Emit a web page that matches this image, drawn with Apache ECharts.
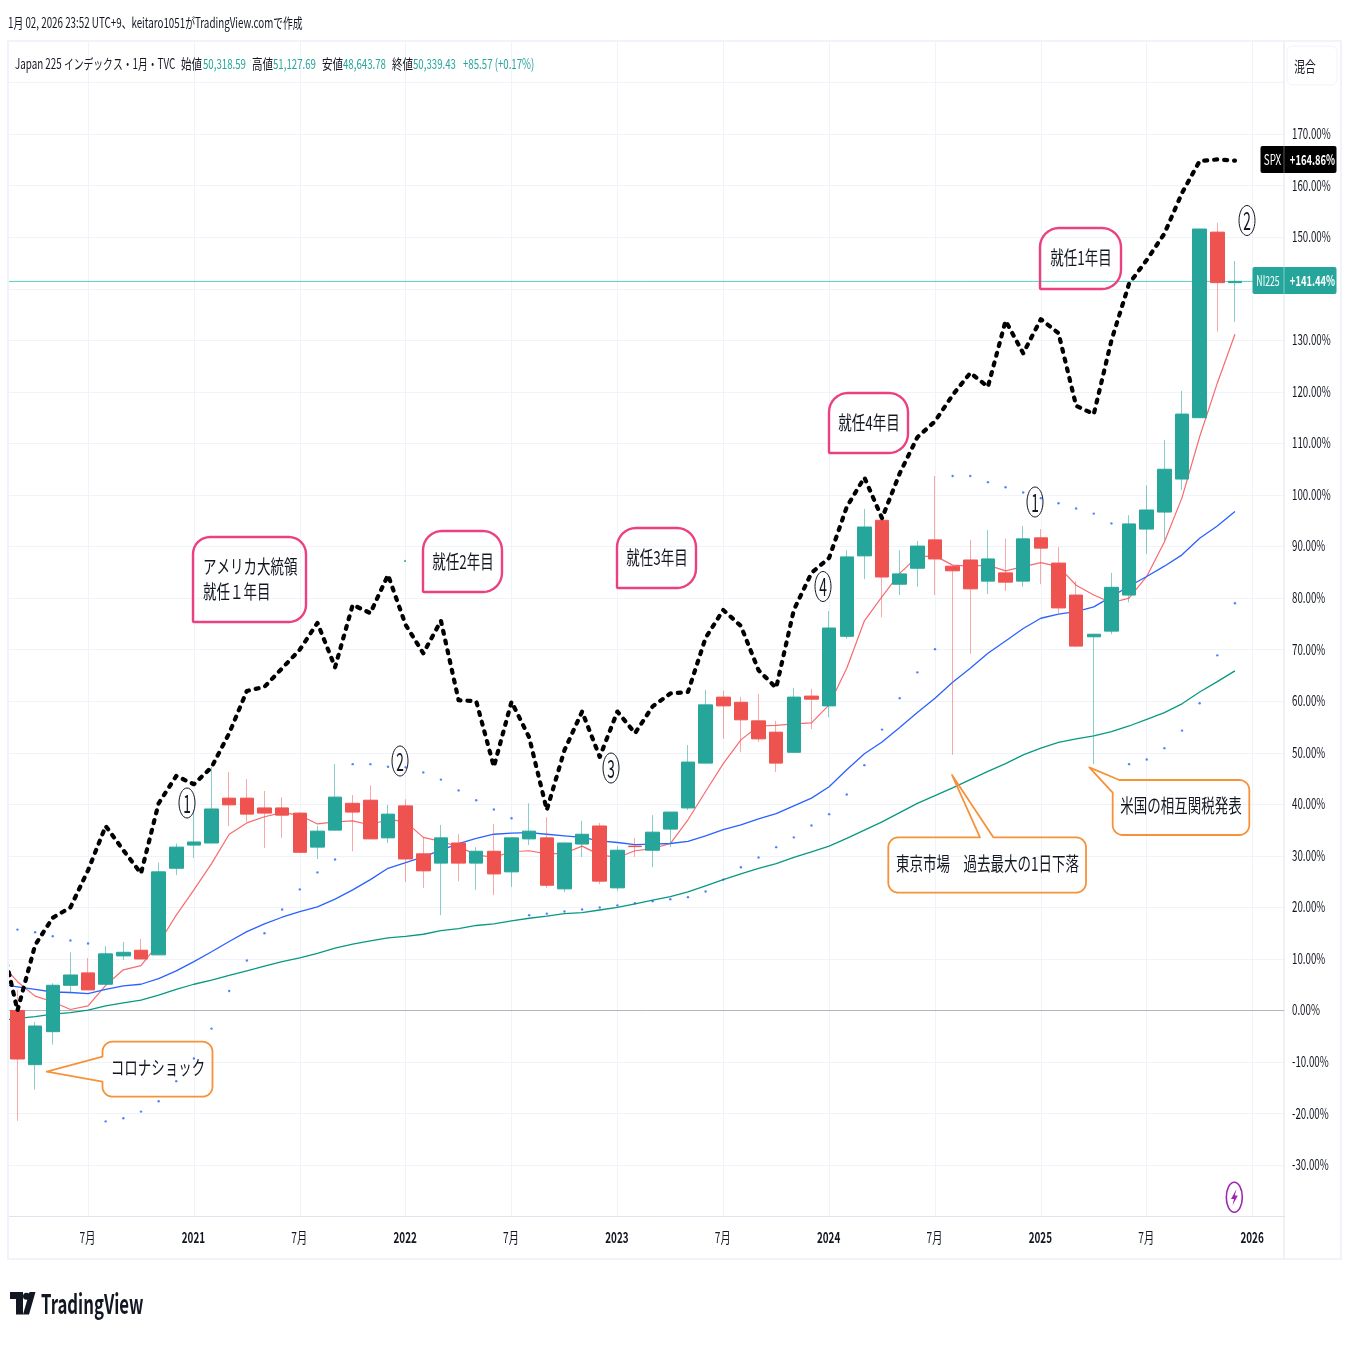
<!DOCTYPE html>
<html><head><meta charset="utf-8">
<style>html,body{margin:0;padding:0;background:#fff}#c{width:1349px;height:1349px}</style>
<script src="https://cdn.jsdelivr.net/npm/echarts@6/dist/echarts.min.js"></script>
</head><body><div id="c"></div>
<script>
// Monthly bars, Mar 2020 .. Dec 2025 position on the time scale (percent from first bar's open)
const openVals  = [0,-10.5,-4.1,4.9,7.3,5.1,10.6,11.7,10.8,27.6,32.1,32.5,41.2,41.2,39.3,39.3,38.3,31.7,35.0,40.2,40.8,33.5,39.7,30.4,28.6,32.5,28.6,30.9,26.9,33.3,33.5,23.6,32.3,35.8,23.8,31.9,31.1,35.2,39.3,48.0,60.8,59.8,56.2,54.0,50.1,61.0,59.1,72.6,88.2,95.1,82.7,85.8,91.3,86.2,87.4,83.3,84.9,83.3,91.7,86.8,80.6,72.5,73.6,80.6,93.4,96.7,103.1,115.0,151.0,141.2];
const closeVals = [-9.4,-3.0,4.9,6.9,4.0,11.0,11.3,10.0,26.9,31.7,32.7,39.1,39.9,38.1,38.3,37.9,30.7,34.8,41.4,38.5,33.3,38.1,29.4,27.1,33.5,28.6,30.9,26.5,33.5,34.8,24.3,32.5,34.2,25.1,31.1,31.8,34.6,38.5,48.2,59.3,59.1,56.4,52.7,48.0,60.8,60.4,74.2,88.0,93.8,84.1,84.7,90.1,87.6,85.3,81.8,87.6,83.1,91.5,89.7,78.1,70.7,73.0,82.1,94.4,97.1,105.0,115.7,151.6,141.2,141.44];
const lowVals   = [-21.4,-15.3,-6.6,3.3,4.0,5.1,9.8,10.0,10.8,26.3,29.6,32.5,35.8,36.6,31.5,33.5,30.7,29.4,35.0,30.9,33.3,32.5,24.9,23.8,18.5,25.1,23.4,22.4,24.0,32.1,23.8,23.0,29.8,24.5,23.2,29.8,27.8,31.7,38.9,48.0,52.7,50.1,52.1,46.3,50.1,54.6,56.9,72.1,83.7,76.3,80.6,82.2,80.6,49.6,69.2,80.8,81.4,82.2,82.7,77.1,70.5,47.8,73.0,79.2,88.6,91.3,101.0,115.0,131.7,133.6];
const highVals  = [4.0,-2.2,5.3,11.3,10.2,12.5,13.3,13.9,28.7,32.4,38.9,47.3,46.3,44.9,42.6,41.4,38.5,35.8,47.8,41.8,43.7,39.9,41.0,33.5,36.0,34.2,31.7,36.2,33.5,40.2,37.5,32.5,36.8,36.4,31.9,33.5,37.9,38.5,51.5,62.2,62.0,60.8,61.4,56.2,62.6,62.4,77.5,89.3,97.3,95.1,89.3,91.1,103.7,86.2,91.3,93.2,91.5,94.0,93.4,89.9,83.3,73.0,84.9,96.1,101.9,110.7,120.2,151.6,152.8,145.4];
// Moving averages and SPX start one month before the first bar
const maFast = [9.4,5.6,2.8,1.7,0.2,0.9,4.9,7.9,8.7,13.0,18.5,23.4,28.5,34.2,36.4,37.6,38.4,37.9,36.2,36.6,36.8,36.0,37.1,36.6,33.6,32.8,31.8,30.2,29.7,30.8,31.0,30.4,30.5,31.9,30.2,29.7,31.0,31.4,32.4,37.0,42.5,47.9,52.5,55.2,55.3,55.6,55.8,59.3,66.4,75.6,80.3,84.8,88.0,88.2,86.4,86.2,86.4,85.3,86.1,86.9,86.1,82.5,80.6,79.1,80.0,84.2,90.9,99.5,111.3,121.7,131.2];
const maMid  = [5.1,4.6,4.1,3.6,3.5,3.3,4.1,4.8,5.1,6.2,7.7,9.5,11.4,13.4,15.3,16.8,18.1,19.2,20.1,21.6,23.4,25.4,27.6,28.7,29.8,31.1,32.4,33.4,34.2,34.4,34.5,34.2,33.9,33.6,32.9,32.6,32.2,32.3,32.4,32.8,33.9,35.1,36.0,37.2,38.2,39.7,41.2,43.4,46.7,49.8,52.1,54.9,57.8,60.6,63.7,66.4,69.3,71.7,74.1,76.1,76.9,77.4,78.3,80.3,82.3,84.2,86.2,88.4,91.6,94.0,96.8];
const maSlow = [-2.0,-1.5,-1.2,-0.7,-0.4,0.1,0.9,1.5,2.0,3.0,4.1,5.1,5.9,6.8,7.7,8.6,9.5,10.2,11.1,12.1,12.9,13.5,14.1,14.4,14.8,15.5,15.9,16.5,16.8,17.4,17.9,18.3,18.8,19.0,19.5,20.0,20.7,21.4,22.1,23.0,24.2,25.4,26.5,27.6,28.5,29.7,30.8,31.9,33.4,35.0,36.6,38.4,40.2,41.7,43.2,44.8,46.4,47.9,49.6,50.9,52.0,52.7,53.3,54.1,55.2,56.5,57.8,59.5,61.8,63.8,65.9];
const spx    = [15.0,0,12.7,18.0,20.0,27.2,35.8,31.1,26.6,40.2,45.5,43.9,47.2,53.8,62.0,62.8,66.4,70.0,75.2,66.6,78.7,77.1,84.5,74.8,69.3,75.6,60.2,60.0,47.3,59.9,53.0,38.9,50.5,58.0,49.2,58.0,53.8,59.0,61.5,61.8,72.3,77.7,74.6,66.0,62.6,77.7,84.9,87.8,97.7,103.4,95.5,104.2,111.2,114.3,119.4,123.7,121.0,133.8,127.5,134.1,131.4,117.3,115.7,130.0,141.0,145.6,150.7,158.6,164.8,165.1,164.86];
// Parabolic SAR dots, one for each bar
const sarDots = [15.7,15.2,14.4,13.6,13.0,-21.5,-20.9,-19.6,-17.6,-13.7,-9.3,-3.5,3.8,9.7,15.0,19.6,23.5,26.8,29.3,47.8,47.8,47.3,47.2,46.2,44.8,42.7,40.8,39.0,37.3,18.5,18.8,19.2,19.6,20.0,20.4,20.8,21.2,21.6,22.0,23.1,25.4,27.8,29.7,31.7,33.6,35.9,38.1,41.9,47.6,54.5,60.6,65.6,70.1,103.7,103.7,102.5,101.5,100.5,99.4,98.4,97.4,96.4,94.5,47.8,48.7,50.9,54.3,59.6,68.9,79.0];
const xTickBars   = [4,10,16,22,28,34,40,46,52,58,64,70];
const xTickLabels = ['7月','2021','7月','2022','7月','2023','7月','2024','7月','2025','7月','2026'];
const yTickValues = [-30,-20,-10,0,10,20,30,40,50,60,70,80,90,100,110,120,130,150,160,170];
const lastNikkei = 141.44;

const GREEN='#26a69a', RED='#ef5350', INK='#131722', GRID='#f0f3fa', EDGE='#e0e3eb', ORANGE='#f6923a', PINK='#ec4080';
const FONT='"Noto Sans CJK JP","Noto Sans",sans-serif';
const X_MIN=-0.48, X_MAX=71.78;

function txt(x,y,s,o){o=o||{};return {type:'text',x:x,y:y,scaleX:o.sx||0.72,z:50,style:{text:s,fontFamily:o.font||FONT,fontSize:o.size||14,fontWeight:o.weight||'normal',fill:o.fill||INK,align:o.align||'left',verticalAlign:'middle'}};}
function arc(cx,cy,r,a0,a1){const p=[];for(let k=0;k<=8;k++){const a=(a0+(a1-a0)*k/8)*Math.PI/180;p.push([cx+r*Math.cos(a),cy+r*Math.sin(a)]);}return p;}
// outline of a note box, with optional pointer
function note(x0,y0,x1,y1,r,color,t,blr){
  const pts=[];t=t||{};const bl=blr==null?r:blr;
  if(t.edge==='corner'){pts.push([x0,t.b],t.tip,[t.a,y0]);}else{
    if(t.edge==='left'){pts.push([x0,t.b],t.tip,[x0,t.a]);}
    pts.push.apply(pts,arc(x0+r,y0+r,r,180,270));}
  if(t.edge==='top'){pts.push([t.a,y0],t.tip,[t.b,y0]);}
  pts.push.apply(pts,arc(x1-r,y0+r,r,270,360));
  pts.push.apply(pts,arc(x1-r,y1-r,r,0,90));
  pts.push.apply(pts,arc(x0+bl,y1-bl,bl,90,180));
  return {type:'polygon',z:40,shape:{points:pts},style:{fill:'none',stroke:color,lineWidth:color===PINK?2.4:1.8,lineJoin:'round'}};
}
function circled(cx,cy,d){return [
  {type:'ellipse',z:45,shape:{cx:cx,cy:cy,rx:8,ry:15},style:{fill:'none',stroke:INK,lineWidth:1}},
  txt(cx,cy,d,{size:25,align:'center',sx:0.55})];}

const bigText={size:19,sx:0.71};
const center=Object.assign({align:'center'},bigText);
const graphics=[
  {type:'rect',z:9,shape:{x:0,y:41,width:8,height:1218},style:{fill:'#fff'}},
  {type:'rect',z:10,shape:{x:8,y:41,width:1333,height:1218},style:{fill:'none',stroke:GRID,lineWidth:2}},
  {type:'line',z:1,shape:{x1:1284,y1:41,x2:1284,y2:1259},style:{stroke:EDGE,lineWidth:1}},
  {type:'rect',z:2,shape:{x:1287,y:46,width:50,height:39,r:6},style:{fill:'#fff',stroke:GRID,lineWidth:1}},
  txt(1305,66,'混合',{size:15,align:'center',sx:0.72}),
  txt(8,23,'1月 02, 2026 23:52 UTC+9、keitaro1051がTradingView.comで作成',{size:14,sx:0.70}),
  txt(15,64,'Japan 225 インデックス・1月・TVC',{size:14,sx:0.70}),
  txt(181,64,'始値',{size:14,sx:0.75}),txt(203,64,'50,318.59',{size:14,sx:0.69,fill:GREEN}),
  txt(252,64,'高値',{size:14,sx:0.75}),txt(273,64,'51,127.69',{size:14,sx:0.69,fill:GREEN}),
  txt(322,64,'安値',{size:14,sx:0.75}),txt(343,64,'48,643.78',{size:14,sx:0.69,fill:GREEN}),
  txt(392,64,'終値',{size:14,sx:0.75}),txt(413,64,'50,339.43',{size:14,sx:0.69,fill:GREEN}),
  txt(463,64,'+85.57 (+0.17%)',{size:14,sx:0.69,fill:GREEN}),
  // price tags
  {type:'rect',z:30,shape:{x:1260.5,y:146,width:76,height:27,r:2},style:{fill:'#000'}},
  {type:'line',z:31,shape:{x1:1284,y1:146,x2:1284,y2:173},style:{stroke:'#555',lineWidth:1}},
  txt(1272.5,159.5,'SPX',{size:14,sx:0.7,align:'center',fill:'#fff'}),
  txt(1312.5,159.5,'+164.86%',{size:14,sx:0.67,align:'center',fill:'#fff',weight:'bold'}),
  {type:'rect',z:30,shape:{x:1252.5,y:267,width:84,height:27,r:2},style:{fill:GREEN}},
  {type:'line',z:31,shape:{x1:1284,y1:267,x2:1284,y2:294},style:{stroke:'#7fd0c8',lineWidth:1}},
  txt(1268,280.7,'NI225',{size:14,sx:0.62,align:'center',fill:'#fff'}),
  txt(1312.5,280.7,'+141.44%',{size:14,sx:0.67,align:'center',fill:'#fff',weight:'bold'}),
  // notes
  note(102.5,1041.7,212.5,1096.7,10,ORANGE,{edge:'left',a:1056.7,b:1081.7,tip:[46.7,1071.7]}),
  txt(158,1068,'コロナショック',center),
  note(888.3,837.3,1086,892.7,10,ORANGE,{edge:'top',a:980,b:993.3,tip:[952,775]}),
  txt(987.5,864,'東京市場　過去最大の1日下落',center),
  note(1112.7,780,1249.3,835,10,ORANGE,{edge:'corner',a:1119.3,b:792.7,tip:[1089.3,767.3]}),
  txt(1181,806,'米国の相互関税発表',center),
  note(193,537,306,622,17,PINK,null,1),
  txt(203,567,'アメリカ大統領',bigText),txt(203,592,'就任１年目',bigText),
  note(423,531,502,592,19,PINK,null,1),txt(463,562,'就任2年目',center),
  note(617,528,696,588,19,PINK,null,1),txt(657,558,'就任3年目',center),
  note(829,393,908,453,19,PINK,null,1),txt(869,423,'就任4年目',center),
  note(1040,228,1121,289,19,PINK,null,1),txt(1081,258,'就任1年目',center),
  {type:'circle',z:20,shape:{cx:405,cy:561,r:1},style:{fill:GREEN}}
].concat(
  circled(187,803,'1'),circled(400,761,'2'),circled(611,768,'3'),
  circled(823,586.5,'4'),circled(1035,502,'1'),circled(1247,220.5,'2'),
  [
  {type:'ellipse',z:30,shape:{cx:1234.3,cy:1197.3,rx:8,ry:15},style:{fill:'#fff',stroke:'#9c27b0',lineWidth:1.6}},
  {type:'polygon',z:31,shape:{points:[[1236.5,1189],[1231,1199],[1234,1199],[1232.5,1205.5],[1237.8,1195.5],[1234.8,1195.5]]},style:{fill:'#9c27b0'}},
  {type:'polygon',z:30,shape:{points:[[10,1292],[23,1292],[23,1314.5],[16,1314.5],[16,1299],[10,1299]]},style:{fill:INK}},
  {type:'circle',z:30,shape:{cx:26.5,cy:1296.2,r:3.5},style:{fill:INK}},
  {type:'polygon',z:30,shape:{points:[[29.5,1292],[35.5,1292],[29,1314.5],[23,1314.5]]},style:{fill:INK}},
  txt(41,1304,'TradingView',{size:27,sx:0.62,weight:'bold'})
  ]);

const chart=echarts.init(document.getElementById('c'),null,{renderer:'canvas'});
const lineOf=(name,arr,color,width,z)=>({name:name,type:'line',z:z,data:arr.map((v,i)=>[i-1,v]),showSymbol:false,silent:true,lineStyle:{color:color,width:width}});
// tick labels are narrow in the reference: they go through the axes' scales, with a horizontal squeeze
const tickText=(x,y,s,align,sx,bold)=>({type:'text',x:x,y:y,scaleX:sx,silent:true,style:{text:s,fill:INK,fontFamily:FONT,fontSize:15,fontWeight:bold?'bold':'normal',align:align,verticalAlign:'middle',textAlign:align,textVerticalAlign:'middle'}});
chart.setOption({
  animation:false,backgroundColor:'#fff',
  grid:{left:9,width:1275,top:41.4,height:1175.34},
  xAxis:{type:'value',min:X_MIN,max:X_MAX,
    axisLine:{show:true,onZero:false,lineStyle:{color:EDGE}},
    axisTick:{show:false,customValues:xTickBars},
    splitLine:{show:true,lineStyle:{color:GRID,width:1}},
    axisLabel:{show:false,customValues:xTickBars}},
  yAxis:{type:'value',position:'right',min:-40,max:188,interval:10,
    axisLine:{show:false},axisTick:{show:false},
    splitLine:{show:true,lineStyle:{color:GRID,width:1}},
    axisLabel:{show:false}},
  series:[
    {name:'NI225 last',type:'line',z:2,data:[[X_MIN,lastNikkei],[X_MAX,lastNikkei]],showSymbol:false,silent:true,lineStyle:{color:'#2fc4b6',width:1,opacity:0.8}},
    {name:'Zero',type:'line',z:2,data:[[X_MIN,0],[X_MAX,0]],showSymbol:false,silent:true,lineStyle:{color:'#b2b5be',width:1}},
    lineOf('MA fast',maFast,'#f86a6e',1.2,3),
    lineOf('MA mid',maMid,'#2962ff',1.3,3),
    lineOf('MA slow',maSlow,'#089981',1.3,3),
    {name:'NI225 wicks',type:'candlestick',z:4,barWidth:1,silent:true,
      data:openVals.map((o,i)=>[i,o,closeVals[i],lowVals[i],highVals[i]]),
      itemStyle:{color:'rgba(38,166,154,0.55)',color0:'rgba(239,83,80,0.5)',borderColor:'rgba(38,166,154,0.55)',borderColor0:'rgba(239,83,80,0.5)',borderWidth:1}},
    {name:'NI225',type:'candlestick',z:5,barWidth:14,silent:true,
      data:openVals.map((o,i)=>[i,o,closeVals[i],Math.min(o,closeVals[i]),Math.max(o,closeVals[i])]),
      itemStyle:{color:GREEN,color0:RED,borderColor:GREEN,borderColor0:RED,borderWidth:1}},
    {name:'SAR',type:'scatter',z:6,symbolSize:2.4,silent:true,data:sarDots.map((v,i)=>[i,v]),itemStyle:{color:'#2962ff'}},
    {name:'SPX',type:'line',z:7,data:spx.map((v,i)=>[i-1,v]),showSymbol:false,silent:true,
      lineStyle:{color:'#000',width:4.2,type:[3,7],cap:'round',join:'round'}},
    {name:'yTicks',type:'custom',z:8,silent:true,data:yTickValues.map(v=>[0,v]),
      renderItem:(p,api)=>{const v=api.value(1);const c=api.coord([0,v]);
        return tickText(p.coordSys.x+p.coordSys.width+8,c[1]-0.8,v.toFixed(2)+'%','left',0.65);}},
    {name:'xTicks',type:'custom',z:8,silent:true,data:xTickBars.map((b,i)=>[b,0,i]),
      renderItem:(p,api)=>{const c=api.coord([api.value(0),0]);const s=xTickLabels[api.value(2)];
        return tickText(c[0]-0.5,p.coordSys.y+p.coordSys.height+21,s,'center',s.length>3?0.66:0.68,s.length>3);}}
  ],
  graphic:{elements:graphics}
});
</script></body></html>
